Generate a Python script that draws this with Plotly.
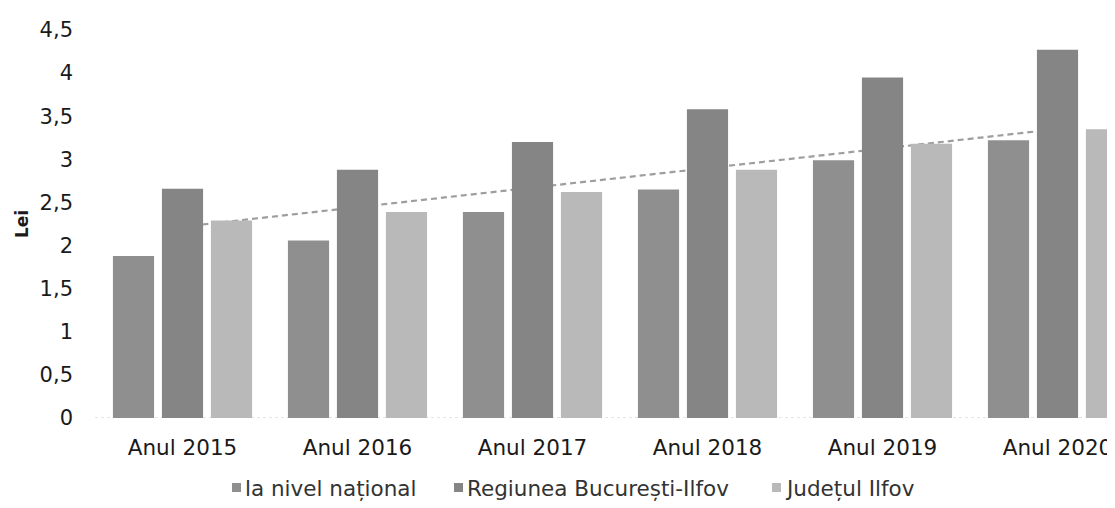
import numpy as np
import plotly.graph_objects as go

categories = ["Anul 2015", "Anul 2016", "Anul 2017", "Anul 2018", "Anul 2019", "Anul 2020"]
national = [1.88, 2.06, 2.39, 2.65, 2.99, 3.22]
bucuresti_ilfov = [2.66, 2.88, 3.20, 3.58, 3.95, 4.27]
judetul_ilfov = [2.29, 2.39, 2.62, 2.88, 3.18, 3.35]
series_names = ["la nivel național", "Regiunea București-Ilfov", "Județul Ilfov"]
y_ticks = [0, 0.5, 1, 1.5, 2, 2.5, 3, 3.5, 4, 4.5]
y_tick_labels = ["0", "0,5", "1", "1,5", "2", "2,5", "3", "3,5", "4", "4,5"]

FONT = "DejaVu Sans"
TXT = "#1a1a1a"
colors = ["#8f8f8f", "#858585", "#b9b9b9"]

# page-pixel layout of the plot area (figure sits 8px into the page)
PLOT_L, PLOT_R, PLOT_T, PLOT_B = 95, 1115, 30, 418


def px(xp):
    return (xp - PLOT_L) / (PLOT_R - PLOT_L)


def py(yp):
    return (PLOT_B - yp) / (PLOT_B - PLOT_T)


fig = go.Figure()
for name, vals, col in zip(series_names, [national, bucuresti_ilfov, judetul_ilfov], colors):
    fig.add_trace(go.Bar(
        x=categories, y=vals, name=name, showlegend=False,
        marker=dict(color=col, line=dict(width=0)),
    ))

# linear trendline of the Judetul Ilfov series (drawn behind the bars)
idx = np.arange(len(categories))
slope, intercept = np.polyfit(idx, judetul_ilfov, 1)
fig.add_shape(
    type="line", xref="x", yref="y", layer="below",
    x0=idx[0], x1=idx[-1],
    y0=intercept + slope * idx[0], y1=intercept + slope * idx[-1],
    line=dict(color="#9e9e9e", width=2.2, dash="6px,4px"),
)
# faint dotted baseline
fig.add_shape(
    type="line", xref="paper", yref="y", layer="below",
    x0=0, x1=1, y0=0, y1=0,
    line=dict(color="#c8c8c8", width=1, dash="dot"),
)

# legend drawn as swatches + text
legend_sym_x = [232, 454, 772]
for name, col, sx in zip(series_names, colors, legend_sym_x):
    fig.add_shape(
        type="rect", xref="paper", yref="paper",
        x0=px(sx), x1=px(sx + 9), y0=py(492), y1=py(483),
        fillcolor=col, line=dict(width=0),
    )
    fig.add_annotation(
        text=name, xref="paper", yref="paper",
        x=px(sx + 11), y=py(488), xanchor="left", yanchor="middle",
        showarrow=False, font=dict(family=FONT, size=21.5, color="#333333"),
    )

# the page body adds an 8px offset, so the figure is sized to compensate
fig.update_layout(
    width=1107, height=500,
    margin=dict(l=PLOT_L - 8, r=0, t=PLOT_T - 8, b=500 - (PLOT_B - 8)),
    paper_bgcolor="white", plot_bgcolor="white",
    barmode="group", bargap=0.16, bargroupgap=0.16,
    font=dict(family=FONT, size=20, color=TXT),
    showlegend=False,
)
fig.update_xaxes(
    type="category", range=[-0.5, -0.5 + 1020 / 175],
    showgrid=False, zeroline=False, showline=False, ticks="",
    ticklabelstandoff=14,
    tickfont=dict(family=FONT, size=21.5, color=TXT),
)
fig.update_yaxes(
    range=[0, 4.5], tickvals=y_ticks, ticktext=y_tick_labels,
    showgrid=False, zeroline=False, showline=False, ticks="",
    ticklabelstandoff=21,
    tickfont=dict(family=FONT, size=21, color=TXT),
    title=dict(text="<b>Lei</b>", standoff=6, font=dict(family=FONT, size=17, color=TXT)),
)

fig.write_html("out.html")
